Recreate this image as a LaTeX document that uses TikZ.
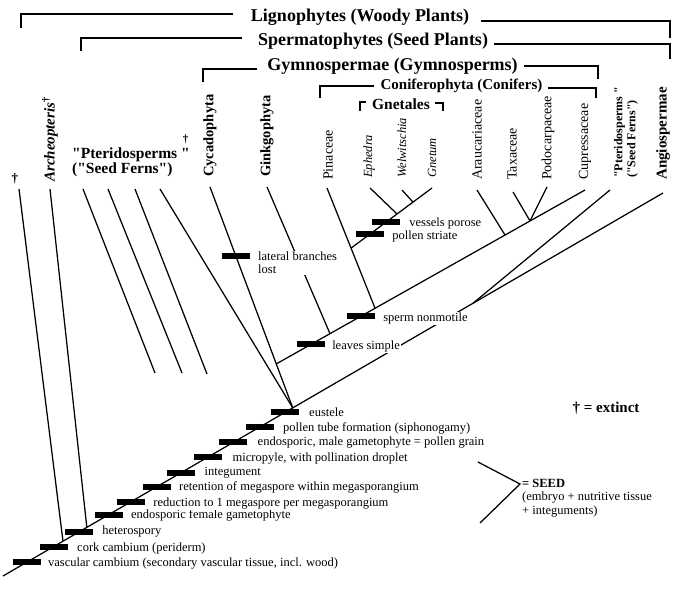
\documentclass[tikz,border=0pt]{standalone}
\usepackage{fontspec}
\setmainfont{Liberation Serif}[Ligatures=TeXOff]
\usetikzlibrary{calc}
\begin{document}
\begin{tikzpicture}[x=1pt,y=-1pt,
  br/.style={line width=1.8pt},
  ln/.style={line width=1.25pt},
  cbar/.style={fill=black, draw=none, minimum width=28pt, minimum height=6pt, inner sep=0pt},
  chr/.style={font=\fontsize{12.5}{13.5}\selectfont, fill=white, inner sep=1pt, anchor=west, align=left},
  head/.style={font=\fontsize{18}{20}\selectfont\bfseries, inner sep=0pt},
  taxon/.style={rotate=90, anchor=west, inner sep=0pt},
  tbold/.style={taxon, font=\fontsize{14.5}{15}\selectfont\bfseries},
  treg/.style={taxon, font=\fontsize{14}{15}\selectfont},
  tital/.style={taxon, font=\fontsize{12.5}{14}\selectfont\itshape},
]
\fill[white] (0,0) rectangle (685,607);
\useasboundingbox (0,0) rectangle (685,607);

% ---------- clade headings and brackets ----------
\node[head] (lig) at (360,17) {Lignophytes (Woody Plants)};
\node[head] (spe) at (373,41) {Spermatophytes (Seed Plants)};
\node[head] (gym) at (392.5,66) {Gymnospermae (Gymnosperms)};
\node[head, font=\fontsize{15}{16}\selectfont\bfseries] (con) at (461.5,86) {Coniferophyta (Conifers)};
\node[head, font=\fontsize{15.5}{16}\selectfont\bfseries] (gnt) at (401,104) {Gnetales};

\draw[br] (21,28) |- ($(lig.west)+(-18,-3)$);
\draw[br] ($(lig.east)+(12,4)$) -| (670,38);
\draw[br] (81,51) |- ($(spe.west)+(-16,-3)$);
\draw[br] ($(spe.east)+(6,3)$) -| (670,59);
\draw[br] (203,82) |- ($(gym.west)+(-10,3)$);
\draw[br] ($(gym.east)+(6,0)$) -| (598,79);
\draw[br] (320,98) |- ($(con.west)+(-6,0)$);
\draw[br] ($(con.east)+(5,2)$) -| (596,98);
\draw[br] (360,111) |- ($(gnt.west)+(-6,-2)$);
\draw[br] ($(gnt.east)+(5,-1)$) -| (443,111);

% ---------- taxon labels ----------
\node[font=\fontsize{13}{13}\selectfont\bfseries, inner sep=0pt] (dag) at (15,179) {†};
\node[taxon, font=\fontsize{15}{16}\selectfont\bfseries\itshape] (arc) at (50,182) {Archeopteris\textsuperscript{\upshape †}};
\node[font=\fontsize{15.5}{15}\selectfont\bfseries, anchor=west, align=left, inner sep=0pt] (ptl) at (72,162)
  {"Pteridosperms "\\("Seed Ferns")};
\node[font=\fontsize{11}{11}\selectfont\bfseries, inner sep=0pt] (ptd) at (185.5,139) {†};
\node[tbold] (tcy) at (210,177) {Cycadophyta};
\node[tbold] (tgi) at (267,177) {Ginkgophyta};
\node[treg] (tpi) at (328,180) {Pinaceae};
\node[tital] (tep) at (369,178) {Ephedra};
\node[tital] (twe) at (402,178) {Welwitschia};
\node[tital] (tgn) at (432,178) {Gnetum};
\node[treg] (tar) at (477,180) {Araucariaceae};
\node[treg] (tta) at (512,180) {Taxaceae};
\node[treg] (tpo) at (548,180) {Podocarpaceae};
\node[treg] (tcu) at (585,180) {Cupressaceae};
\node[taxon, font=\fontsize{12}{13}\selectfont\bfseries, align=left] (tpr) at (626,178) {"Pteridosperms "\\("Seed Ferns")};
\node[taxon, font=\fontsize{15}{16}\selectfont\bfseries] (tan) at (663,180) {Angiospermae};

% ---------- tree geometry ----------
\coordinate (T0) at (3,576);
\coordinate (TA) at (663,193);
\coordinate (J)  at ($(T0)!0.439!(TA)$);
\coordinate (P)  at ($(T0)!0.712!(TA)$);
\coordinate (J1) at ($(T0)!0.0909!(TA)$);
\coordinate (J2) at ($(T0)!0.127!(TA)$);

\coordinate (l0) at (19,189);
\coordinate (lA) at (50,189);
\coordinate (p1) at (83,189);  \coordinate (p1e) at (155,373);
\coordinate (p2) at (108,189); \coordinate (p2e) at (182,373);
\coordinate (p3) at (135,189); \coordinate (p3e) at (207,374);
\coordinate (p4) at (160,189);
\coordinate (cyc) at (210,187);
\coordinate (gin) at (267,187);
\coordinate (pin) at (327,188);
\coordinate (eph) at (370,188);
\coordinate (wel) at (402,190);
\coordinate (gne) at (432,188);
\coordinate (ara) at (477,190);
\coordinate (tax) at (513,192);
\coordinate (pod) at (547,187);
\coordinate (cup) at (585,190);
\coordinate (ptr) at (610,190);

\coordinate (G)    at ($(cyc)!0.801!(J)$);
\coordinate (ginJ) at ($(G)!0.174!(cup)$);
\coordinate (pinJ) at ($(G)!0.320!(cup)$);
\coordinate (araJ) at ($(G)!0.741!(cup)$);
\coordinate (taxJ) at ($(G)!0.822!(cup)$);
\coordinate (Gn)   at ($(pin)!0.5!(pinJ)$);
\coordinate (ephJ) at ($(Gn)!0.568!(gne)$);
\coordinate (welJ) at ($(Gn)!0.765!(gne)$);

\draw[ln] (l0) -- (J1);
\draw[ln] (lA) -- (J2);
\draw[ln] (p1) -- (p1e);
\draw[ln] (p2) -- (p2e);
\draw[ln] (p3) -- (p3e);
\draw[ln] (p4) -- (J);
\draw[ln] (cyc) -- (J);
\draw[ln] (T0) -- (TA);
\draw[ln] (P) -- (ptr);
\draw[ln] (G) -- (cup);
\draw[ln] (gin) -- (ginJ);
\draw[ln] (pin) -- (pinJ);
\draw[ln] (Gn) -- (gne);
\draw[ln] (eph) -- (ephJ);
\draw[ln] (wel) -- (welJ);
\draw[ln] (ara) -- (araJ);
\draw[ln] (tax) -- (taxJ);
\draw[ln] (pod) -- (taxJ);

% ---------- character bars ----------
\foreach \t/\n in {0.036/b1,0.077/b2,0.115/b3,0.160/b4,0.194/b5,0.233/b6,0.270/b7,0.311/b8,0.349/b9,0.389/b10,0.427/b11}
  \node[cbar] (\n) at ($(T0)!\t!(TA)$) {};
\node[cbar] (c1) at ($(cyc)!0.312!(J)$) {};
\node[cbar] (c2) at ($(G)!0.112!(cup)$) {};
\node[cbar] (c3) at ($(G)!0.274!(cup)$) {};
\node[cbar] (c4) at ($(Gn)!0.235!(gne)$) {};
\node[cbar] (c5) at ($(Gn)!0.432!(gne)$) {};

\node[chr] (d1)  at ($(b1.east)+(6,1)$)  {vascular cambium (secondary vascular tissue, incl. wood)};
\node[chr] (d2)  at ($(b2.east)+(8,2)$)  {cork cambium (periderm)};
\node[chr] (d3)  at ($(b3.east)+(8,0)$)  {heterospory};
\node[chr] (d4)  at ($(b4.east)+(7,1)$)  {endosporic female gametophyte};
\node[chr] (d5)  at ($(b5.east)+(7,2)$)  {reduction to 1 megaspore per megasporangium};
\node[chr] (d6)  at ($(b6.east)+(7,1)$)  {retention of megaspore within megasporangium};
\node[chr] (d7)  at ($(b7.east)+(8,0)$)  {integument};
\node[chr] (d8)  at ($(b8.east)+(9,2)$)  {micropyle, with pollination droplet};
\node[chr] (d9)  at ($(b9.east)+(9,0)$)  {endosporic, male gametophyte = pollen grain};
\node[chr] (d10) at ($(b10.east)+(8,1)$) {pollen tube formation (siphonogamy)};
\node[chr] (d11) at ($(b11.east)+(9,0)$) {eustele};

\node[chr] (e1) at ($(c1.east)+(7,7)$) {lateral branches\\lost};
\node[chr] (e2) at ($(c2.east)+(6,2)$) {leaves simple};
\node[chr] (e3) at ($(c3.east)+(7,2)$) {sperm nonmotile};
\node[chr] (e4) at ($(c4.east)+(7,2)$) {pollen striate};
\node[chr] (e5) at ($(c5.east)+(8,1)$) {vessels porose};

% ---------- legend and seed bracket ----------
\node[font=\fontsize{15}{16}\selectfont\bfseries, inner sep=0pt] (ext) at (606,408) {† = extinct};
\coordinate (s1) at (478,462);
\coordinate (s2) at (520,484);
\coordinate (s3) at (480,523);
\draw[ln] (s1) -- (s2) -- (s3);
\node[font=\fontsize{12.5}{13.5}\selectfont, anchor=west, align=left, inner sep=0pt] (seed) at (522,498)
  {\textbf{= SEED}\\(embryo + nutritive tissue\\+ integuments)};
\end{tikzpicture}
\end{document}
